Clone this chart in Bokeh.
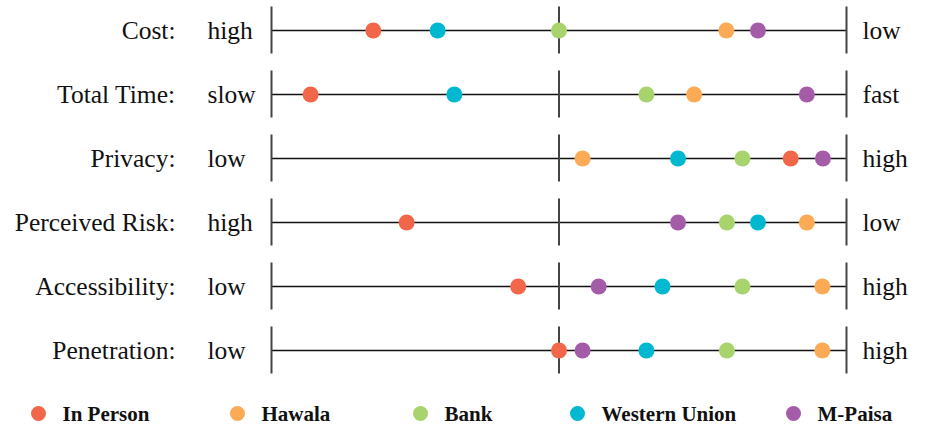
from bokeh.plotting import figure
from bokeh.models import Range1d
from bokeh.core.properties import value
from bokeh.embed import file_html
from bokeh.resources import INLINE

# ---- data ----
categories = ["Cost:", "Total Time:", "Privacy:", "Perceived Risk:", "Accessibility:", "Penetration:"]
left_labels = ["high", "slow", "low", "high", "low", "low"]
right_labels = ["low", "fast", "high", "low", "high", "high"]
series = ["In Person", "Hawala", "Bank", "Western Union", "M-Paisa"]
colors = ["#F26649", "#FCAA56", "#A9D36D", "#00B8CF", "#A45CA8"]
in_person = [17.7, 6.8, 90.3, 23.5, 42.9, 50.0]
hawala = [79.1, 73.5, 54.1, 93.1, 95.8, 95.8]
bank = [50.0, 65.2, 81.9, 79.2, 81.9, 79.2]
western_union = [28.9, 31.8, 70.7, 84.6, 68.0, 65.2]
m_paisa = [84.6, 93.1, 95.9, 70.7, 56.9, 54.1]
values = [in_person, hawala, bank, western_union, m_paisa]
axis_ticks = [0, 50, 100]

W, H = 930, 424
PX = 5.75          # pixels per value unit
X0 = 271           # frame px of value 0
ROW_PX = 64
Y0 = 30
xs = -X0 / PX
xe = xs + W / PX
ys = -Y0 / ROW_PX
ye = ys + H / ROW_PX

p = figure(width=W, height=H, output_backend="svg", toolbar_location=None,
           x_range=Range1d(xs, xe), y_range=Range1d(ye, ys),
           min_border=0, outline_line_color=None)
p.axis.visible = False
p.grid.visible = False
p.background_fill_color = "white"
p.border_fill_color = "white"

n = len(categories)
rows = list(range(n))

# horizontal lines
p.segment(x0=[axis_ticks[0]] * n, x1=[axis_ticks[-1]] * n, y0=rows, y1=rows,
          line_color="#111111", line_width=1.6)
# vertical ticks
tx, ty0, ty1 = [], [], []
for r in rows:
    for t in axis_ticks:
        tx.append(t)
        ty0.append(r - 24 / ROW_PX)
        ty1.append(r + 23 / ROW_PX)
p.segment(x0=tx, x1=tx, y0=ty0, y1=ty1, line_color="#444444", line_width=2)

# dots
dx, dy, dc = [], [], []
for s, vals in enumerate(values):
    for r, v in enumerate(vals):
        dx.append(v)
        dy.append(r)
        dc.append(colors[s])
p.scatter(x=dx, y=dy, size=16, fill_color=dc, line_color=None)

font = value("'Liberation Serif', 'Times New Roman', 'DejaVu Serif', serif")
# category labels
p.text(x=[(175 - X0) / PX] * n, y=rows, text=categories, text_font=font,
       text_font_size="25.5px", text_align="right", text_baseline="middle",
       text_color="#111111")
p.text(x=[(207 - X0) / PX] * n, y=rows, text=left_labels, text_font=font,
       text_font_size="25.5px", text_align="left", text_baseline="middle",
       text_color="#111111")
p.text(x=[(862 - X0) / PX] * n, y=rows, text=right_labels, text_font=font,
       text_font_size="25.5px", text_align="left", text_baseline="middle",
       text_color="#111111")

# legend
leg_px = [38, 237, 420, 577, 793]
leg_y = (413 - Y0) / ROW_PX
lx = [(x - X0) / PX for x in leg_px]
p.scatter(x=lx, y=[leg_y] * len(series), size=15, fill_color=colors, line_color=None)
p.text(x=[(x + 24 - X0) / PX for x in leg_px], y=[leg_y] * len(series), text=series,
       text_font=font, text_font_size="21px", text_font_style="bold",
       text_align="left", text_baseline="middle", text_color="#111111")

open("out.html", "w").write(file_html(p, INLINE))
